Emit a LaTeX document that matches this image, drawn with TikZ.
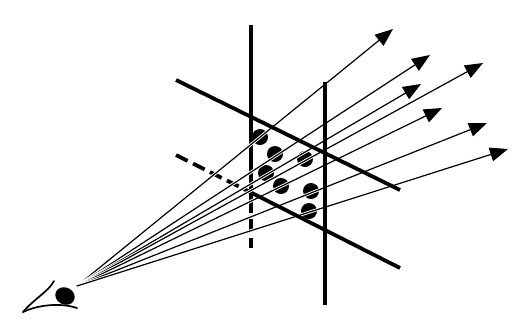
\documentclass[tikz,border=0pt]{standalone}
\usetikzlibrary{arrows.meta}
\begin{document}
\begin{tikzpicture}[x=1pt,y=-1pt,
  bar/.style={line width=3.8pt, line cap=butt},
  dashbar/.style={bar, dash pattern=on 13pt off 6pt},
  dot/.style={circle, fill=black, inner sep=0pt, minimum size=16pt},
  ray/.style={line width=1.2pt, -{Triangle[length=18pt,width=14pt]},
    preaction={draw=white, line width=3pt, -{}}},
  lid/.style={line width=1.7pt, line cap=round}]
\useasboundingbox (0,0) rectangle (526,333);

% eye apex and ray targets
\coordinate (eye) at (77,286);
\coordinate (t1) at (393,29);
\coordinate (t2) at (430,55);
\coordinate (t3) at (421,84);
\coordinate (t4) at (483,63);
\coordinate (t5) at (442,108);
\coordinate (t6) at (487,123);
\coordinate (t7) at (508,149);

% rear plane: left vertical bar and dashed part of lower diagonal
\coordinate (lv1) at (251,25);
\coordinate (lv2) at (251,200);
\coordinate (lv3) at (251,248);
\draw[bar] (lv1) -- (lv2);
\draw[dashbar] (lv2) -- (lv3);
\coordinate (ld1) at (176,155);
\coordinate (ld2) at (252,193);
\coordinate (ld3) at (400,268);
\draw[dashbar] (ld1) -- (ld2);

% points on the plane
\node[dot] (d1) at (260,137) {};
\node[dot] (d2) at (275,154) {};
\node[dot] (d3) at (266,173) {};
\node[dot] (d4) at (305,159) {};
\node[dot] (d5) at (281,186) {};
\node[dot] (d6) at (311,191) {};
\node[dot] (d7) at (309,211) {};

% rays from the eye through the points
\foreach \i in {1,...,7} \draw[ray] (eye) -- (t\i);

% front bars
\coordinate (rv1) at (325,82);
\coordinate (rv2) at (325,305);
\draw[bar] (rv1) -- (rv2);
\coordinate (ud1) at (176,80);
\coordinate (ud2) at (400,190);
\draw[bar] (ud1) -- (ud2);
\draw[bar] (ld2) -- (ld3);

% eye
\coordinate (corner) at (23,312);
\draw[lid] (corner) .. controls (35,298) and (48,292) .. (54,281);
\draw[lid] (corner) .. controls (40,304) and (62,303) .. (77,308);
\fill[rotate around={-25:(65,296)}] (65,296) ellipse (10pt and 8.5pt);
\end{tikzpicture}
\end{document}
